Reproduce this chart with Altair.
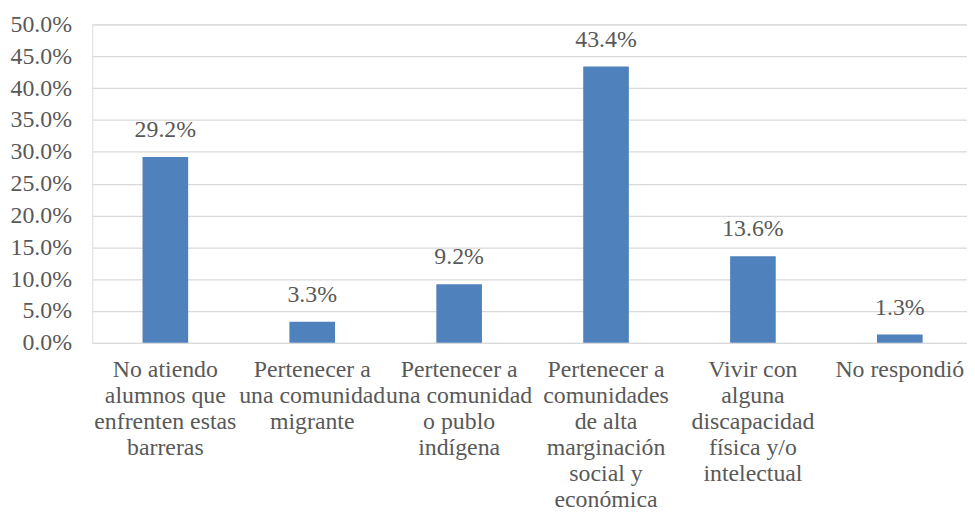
import altair as alt
import pandas as pd

categories = [
    "No atiendo|alumnos que|enfrenten estas|barreras",
    "Pertenecer a|una comunidad|migrante",
    "Pertenecer a|una comunidad|o publo|indígena",
    "Pertenecer a|comunidades|de alta|marginación|social y|económica",
    "Vivir con|alguna|discapacidad|física y/o|intelectual",
    "No respondió",
]
values = [0.292, 0.033, 0.092, 0.434, 0.136, 0.013]
y_ticks = [0.0, 0.05, 0.10, 0.15, 0.20, 0.25, 0.30, 0.35, 0.40, 0.45, 0.50]

df = pd.DataFrame({"cat": categories, "val": values})

FONT = "Liberation Serif"
TXT = "#595959"

x_enc = alt.X(
    "cat:N",
    sort=categories,
    title=None,
    scale=alt.Scale(paddingInner=0.6894, paddingOuter=0.322, align=0.531),
    axis=alt.Axis(
        labelExpr="split(datum.label, '|')",
        labelAngle=0,
        labelFont=FONT,
        labelFontSize=24,
        labelColor=TXT,
        labelLineHeight=26.3,
        labelPadding=15,
        labelOverlap=False,
        labelBound=False,
        labelLimit=400,
        ticks=False,
        domain=False,
    ),
)
y_enc = alt.Y(
    "val:Q",
    title=None,
    scale=alt.Scale(domain=[0, 0.5], nice=False),
    axis=alt.Axis(
        values=y_ticks,
        format=".1%",
        labelFont=FONT,
        labelFontSize=24,
        labelColor=TXT,
        labelPadding=21,
        ticks=False,
        tickSize=0,
        domain=False,
        gridColor="#D9D9D9",
        gridWidth=1.3,
    ),
)

base = alt.Chart(df)
bars = base.mark_bar(color="#4F81BD").encode(x=x_enc, y=y_enc)
labels = base.mark_text(
    font=FONT, fontSize=24, color=TXT, baseline="alphabetic", dy=-20
).encode(x=x_enc, y=y_enc, text=alt.Text("val:Q", format=".1%"))

chart = (
    (bars + labels)
    .properties(
        width=882,
        height=321,
        autosize=alt.AutoSizeParams(type="none"),
        padding={"left": 85, "top": 14.5, "right": 0, "bottom": 169},
    )
    .configure_view(stroke=None)
    .configure(background="white")
)

chart.save("out.html", embed_options={"renderer": "svg", "actions": False})
